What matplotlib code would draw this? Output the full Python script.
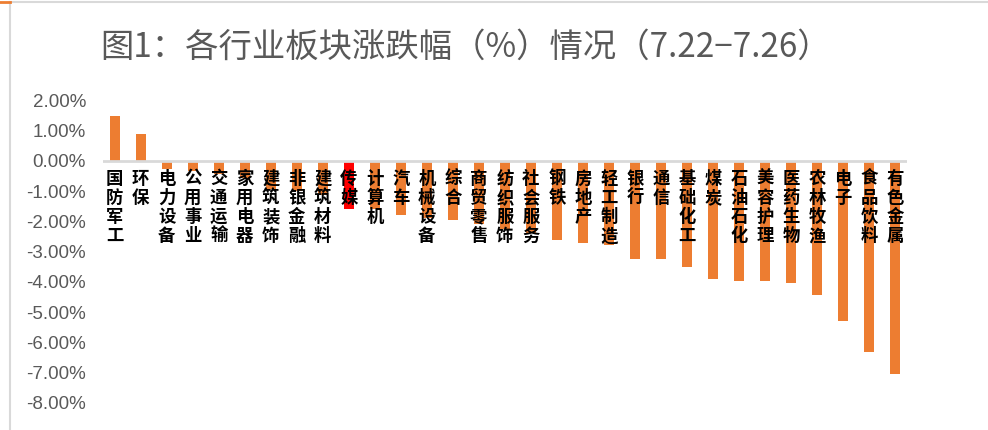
import matplotlib
matplotlib.use("Agg")
import matplotlib.pyplot as plt
from matplotlib.lines import Line2D

plt.rcParams['font.family'] = ['Noto Sans CJK SC', 'DejaVu Sans']

# ---------- 数据 ----------
hangye = ["国防军工", "环保", "电力设备", "公用事业", "交通运输", "家用电器", "建筑装饰",
          "非银金融", "建筑材料", "传媒", "计算机", "汽车", "机械设备", "综合", "商贸零售",
          "纺织服饰", "社会服务", "钢铁", "房地产", "轻工制造", "银行", "通信", "基础化工",
          "煤炭", "石油石化", "美容护理", "医药生物", "农林牧渔", "电子", "食品饮料", "有色金属"]
zhangdie = [1.48, 0.88, -0.27, -0.35, -0.45, -0.58, -0.95,
            -1.00, -1.12, -1.58, -1.59, -1.79, -1.90, -1.97, -2.10,
            -2.25, -2.40, -2.63, -2.71, -2.78, -3.25, -3.25, -3.51,
            -3.90, -3.97, -3.97, -4.04, -4.43, -5.29, -6.33, -7.06]
yticks = [2, 1, 0, -1, -2, -3, -4, -5, -6, -7, -8]

ORANGE = "#ED7D31"
GREY = "#595959"

fig = plt.figure(figsize=(9.88, 4.30), dpi=100)
ax = fig.add_axes([0.104, 0.063, 0.814, 0.704])

x = list(range(len(hangye)))
cols = ["#FF0000" if h == "传媒" else ORANGE for h in hangye]
ax.bar(x, zhangdie, width=0.4, color=cols, zorder=2)
ax.axhline(0, color="#D9D9D9", lw=2, zorder=3)

for i, h in enumerate(hangye):
    ax.text(i, -0.3, "\n".join(h), ha="center", va="top", fontsize=12.5,
            fontweight="bold", color="black", linespacing=1.08, zorder=4)

ax.set_xlim(-0.46, len(hangye) - 0.54)
ax.set_ylim(-8, 2)
ax.set_yticks(yticks)
ax.set_yticklabels([f"{v:.2f}%" for v in yticks], fontsize=13.5, color=GREY,
                   family=["Liberation Sans", "DejaVu Sans"])
ax.tick_params(axis="y", length=0, pad=12)
ax.set_xticks([])
for s in ax.spines.values():
    s.set_visible(False)
ax.patch.set_alpha(0)

fig.text(0.471, 0.89, "图1：各行业板块涨跌幅（%）情况（7.22−7.26）", ha="center", va="center",
         fontsize=24, color=GREY)

# 外框线
fig.add_artist(Line2D([0.0105, 1.0], [0.995, 0.995], color="#D9D9D9", lw=1.5))
fig.add_artist(Line2D([0.0105, 0.0105], [0.0, 0.995], color="#D9D9D9", lw=1.5))
fig.add_artist(Line2D([0.0, 0.0105], [0.995, 0.995], color=ORANGE, lw=2))

fig.savefig("out.png", dpi=100)
